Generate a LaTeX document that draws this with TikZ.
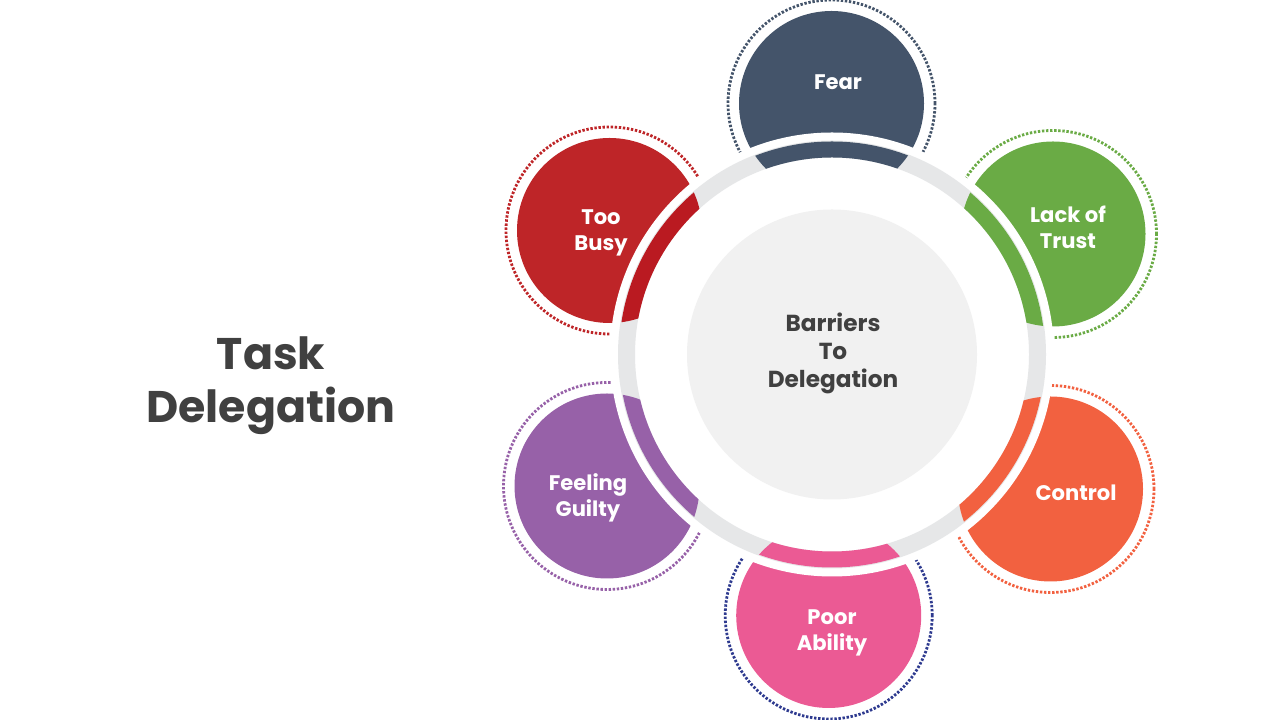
\documentclass[tikz,border=0pt]{standalone}
\usepackage{fontspec}
\setmainfont{Poppins}
\definecolor{fearc}{HTML}{44546A}
\definecolor{trustc}{HTML}{6AAB45}
\definecolor{controlc}{HTML}{F26140}
\definecolor{poorc}{HTML}{EB5A94}
\definecolor{poordot}{HTML}{2E3A8F}
\definecolor{guiltyc}{HTML}{9761A8}
\definecolor{busyc}{HTML}{BE2528}
\definecolor{busyband}{HTML}{BA1A21}
\definecolor{ringc}{HTML}{E6E7E8}
\definecolor{corec}{HTML}{F1F1F1}
\definecolor{textc}{HTML}{404040}
\tikzset{
  dots/.style={line width=2pt,dash pattern=on 1.7pt off 1.2pt},
  petaltext/.style={text=white,font=\fontsize{15}{18.4}\selectfont\bfseries,align=center},
}
\begin{document}
\begin{tikzpicture}[x=0.025cm,y=0.025cm]
\useasboundingbox (0,0) rectangle (1280,720);
\coordinate (c) at (832,365.5);
\coordinate (fear) at (831.5,616.5);
\coordinate (trust) at (1053,486);
\coordinate (control) at (1050.5,231);
\coordinate (poor) at (828.7,104.5);
\coordinate (guilty) at (607,234);
\coordinate (busy) at (609.5,489.5);
\fill[fearc] (fear) circle (92.5);
\draw[dots,fearc] (fear) circle (103.5);
\fill[trustc] (trust) circle (92.5);
\draw[dots,trustc] (trust) circle (103.5);
\fill[controlc] (control) circle (92.5);
\draw[dots,controlc] (control) circle (103.5);
\fill[poorc] (poor) circle (92.5);
\draw[dots,poordot] (poor) circle (103.5);
\fill[guiltyc] (guilty) circle (92.5);
\draw[dots,guiltyc] (guilty) circle (103.5);
\fill[busyc] (busy) circle (92.5);
\draw[dots,busyc] (busy) circle (103.5);
\fill[white] (c) circle (222);
\fill[ringc,even odd rule] (c) circle (214) (c) circle (197);
\begin{scope}
\clip (fear) circle (92.5);
\fill[fearc,even odd rule] (c) circle (213) (c) circle (197);
\end{scope}
\begin{scope}
\clip (trust) circle (92.5);
\fill[trustc,even odd rule] (c) circle (213) (c) circle (197);
\end{scope}
\begin{scope}
\clip (control) circle (92.5);
\fill[controlc,even odd rule] (c) circle (213) (c) circle (197);
\end{scope}
\begin{scope}
\clip (poor) circle (92.5);
\fill[poorc,even odd rule] (c) circle (213) (c) circle (197);
\end{scope}
\begin{scope}
\clip (guilty) circle (92.5);
\fill[guiltyc,even odd rule] (c) circle (213) (c) circle (197);
\end{scope}
\begin{scope}
\clip (busy) circle (92.5);
\fill[busyband,even odd rule] (c) circle (213) (c) circle (197);
\end{scope}
\fill[corec] (c) circle (145);
\node[petaltext] (feartext) at (838,638) {Fear};
\node[petaltext] (trusttext) at (1068,493) {Lack of\\Trust};
\node[petaltext] (controltext) at (1076,227) {Control};
\node[petaltext] (poortext) at (832,87) {Poor\\Ability};
\node[petaltext] (guiltytext) at (588,222) {Feeling\\Guilty};
\node[petaltext] (busytext) at (601,487) {Too\\Busy};
\node[text=textc,font=\fontsize{16.5}{20}\selectfont\bfseries,align=center] (core) at (833,366.5) {Barriers\\To\\Delegation};
\node[text=textc,font=\fontsize{31.5}{37.5}\selectfont\bfseries,align=center] (title) at (271,334) {Task\\Delegation};
\end{tikzpicture}
\end{document}
